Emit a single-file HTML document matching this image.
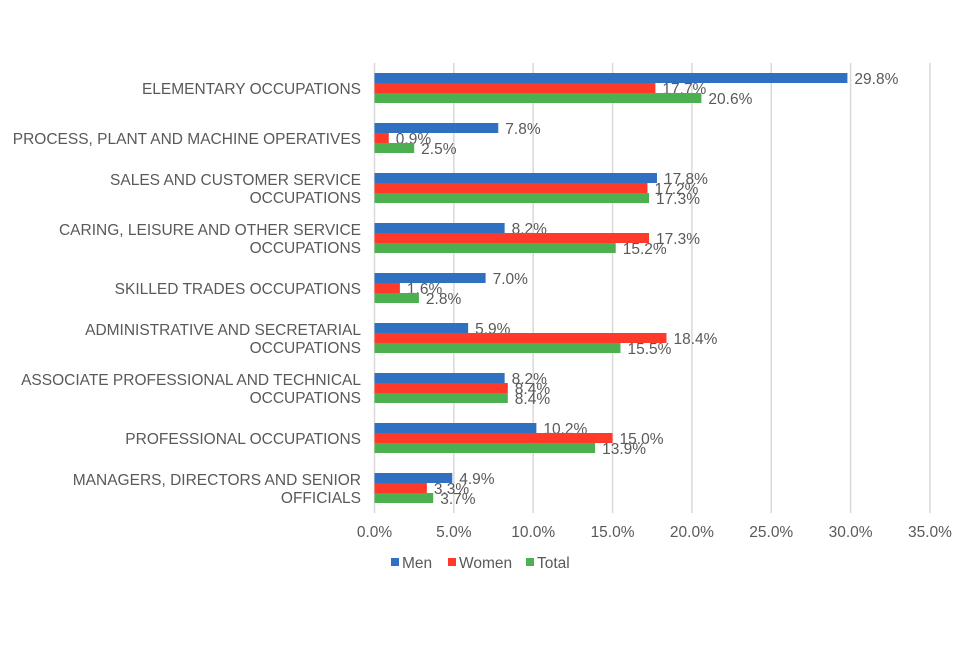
<!DOCTYPE html>
<html><head><meta charset="utf-8"><style>
body{margin:0;background:#fff;}
svg text{font-family:"Liberation Sans",sans-serif;fill:#595959;font-size:15.5px;}
</style></head><body>
<svg id="chart" width="960" height="640"></svg>
<script>
const categories=["ELEMENTARY OCCUPATIONS","PROCESS, PLANT AND MACHINE OPERATIVES","SALES AND CUSTOMER SERVICE|OCCUPATIONS","CARING, LEISURE AND OTHER SERVICE|OCCUPATIONS","SKILLED TRADES OCCUPATIONS","ADMINISTRATIVE AND SECRETARIAL|OCCUPATIONS","ASSOCIATE PROFESSIONAL AND TECHNICAL|OCCUPATIONS","PROFESSIONAL OCCUPATIONS","MANAGERS, DIRECTORS AND SENIOR|OFFICIALS"];
const men=[29.8,7.8,17.8,8.2,7.0,5.9,8.2,10.2,4.9];
const women=[17.7,0.9,17.2,17.3,1.6,18.4,8.4,15.0,3.3];
const total=[20.6,2.5,17.3,15.2,2.8,15.5,8.4,13.9,3.7];
const ticks=[0,5,10,15,20,25,30,35];
const NS="http://www.w3.org/2000/svg";
const svg=document.getElementById('chart');
const x0=374.5,pxPer=15.87,top0=63,band=50;
const xs=v=>x0+v*pxPer;
function mk(t,a,p){const e=document.createElementNS(NS,t);for(const k in a)e.setAttribute(k,a[k]);(p||svg).appendChild(e);return e;}
ticks.forEach(t=>{
 const g=mk('line',{x1:xs(t),x2:xs(t),y1:top0,y2:top0+band*categories.length,stroke:'#d9d9d9','stroke-width':1.5});
 
 
 const l=mk('text',{x:xs(t),y:537,'text-anchor':'middle'});l.textContent=t.toFixed(1)+'%';
 
 
});
const series=[[men,'#3070C0',-15,'men'],[women,'#FF3A2A',-5,'women'],[total,'#4CAF50',5,'total']];
categories.forEach((c,i)=>{
 const cy=top0+band/2+band*i;
 const lines=c.split('|');
 lines.forEach((ln,j)=>{
  const t=mk('text',{x:361,y:cy+6+(lines.length===2?(j===0?-9:9):0),'text-anchor':'end'});t.textContent=ln;
  
  
 });
 series.forEach(([arr,col,off,nm])=>{
  const r=mk('rect',{x:x0,y:cy+off,width:arr[i]*pxPer,height:10,fill:col});
  
  
  const v=mk('text',{x:xs(arr[i])+7,y:cy+off+11});v.textContent=arr[i].toFixed(1)+'%';
  
  
 });
});
const leg=[['Men','#3070C0',391],['Women','#FF3A2A',448],['Total','#4CAF50',526]];
leg.forEach(([n,c,x])=>{
 const r=mk('rect',{x:x,y:558,width:8,height:8,fill:c});
 
 
 const t=mk('text',{x:x+11,y:568});t.textContent=n;
 
 
});
</script>
</body></html>
